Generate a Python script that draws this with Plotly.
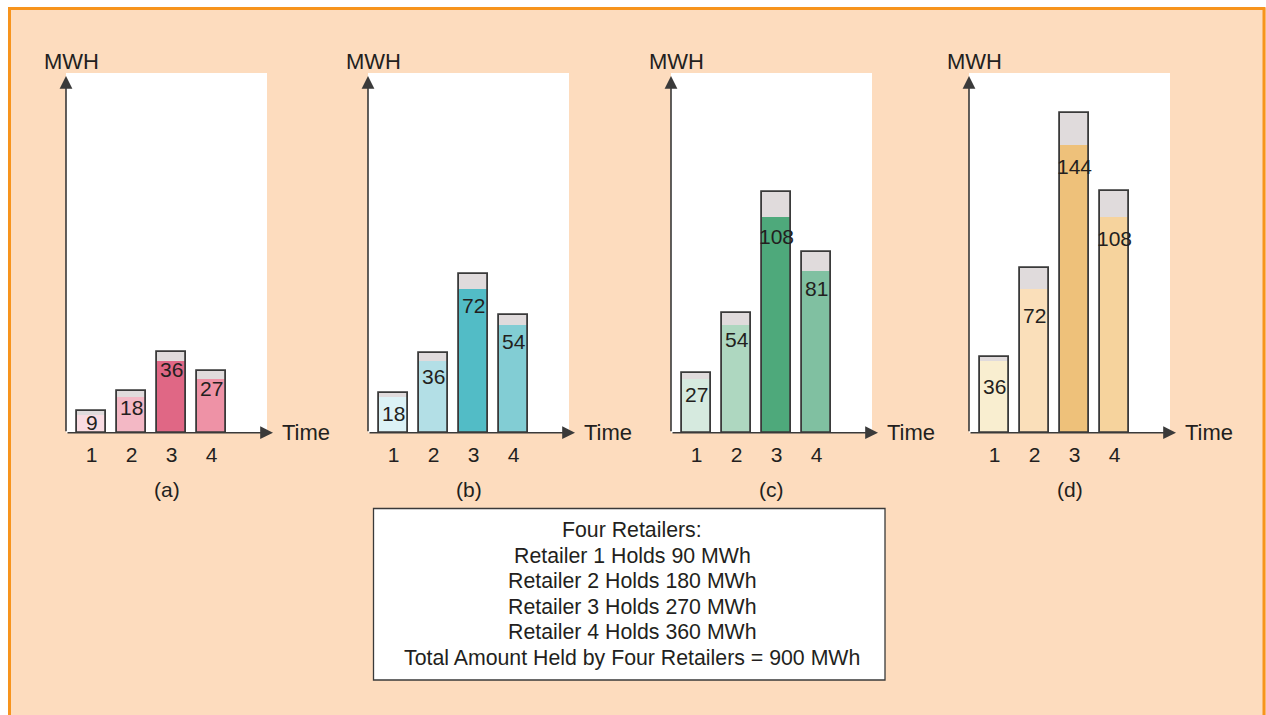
import plotly.graph_objects as go

# ---- data -------------------------------------------------------------
time_slots = [1, 2, 3, 4]
panel_tags = ["(a)", "(b)", "(c)", "(d)"]

retailer1_mwh = [9, 18, 36, 27]
retailer2_mwh = [18, 36, 72, 54]
retailer3_mwh = [27, 54, 108, 81]
retailer4_mwh = [36, 72, 144, 108]

# grey head-room drawn on top of each bar (MWh)
retailer1_margin = [1.7, 2.7, 4.3, 3.8]
retailer2_margin = [1.8, 3.8, 7.2, 5.0]
retailer3_margin = [2.8, 5.8, 12.3, 9.5]
retailer4_margin = [1.8, 10.2, 16.0, 12.8]

summary_lines = [
    "Four Retailers:",
    "Retailer 1 Holds 90 MWh",
    "Retailer 2 Holds 180 MWh",
    "Retailer 3 Holds 270 MWh",
    "Retailer 4 Holds 360 MWh",
    "Total Amount Held by Four Retailers = 900 MWh",
]

# ---- styling ------------------------------------------------------------
W, H = 1266, 715
PEACH = "#FDDCBE"
ORANGE = "#F7941D"
INK = "#231F20"
AXIS = "#3A3A3A"
CAP = "#E0DBDC"
FONT = "Liberation Sans, Arial, sans-serif"

bar_colors = [
    ["#F9DCE2", "#F3B8C5", "#E06785", "#EE92A6"],
    ["#DCF2F6", "#B3DFE6", "#52BCC6", "#82CDD4"],
    ["#D6EADF", "#AED7C0", "#4EA97B", "#80C0A1"],
    ["#F9EED0", "#FADFBA", "#EEC17A", "#F6D39D"],
]
# vertical drop (px) of each value label below the top of its coloured part
label_drop = [
    [8, 11, 9, 10],
    [17, 16, 17, 17],
    [16, 15, 20, 18],
    [26, 27, 22, 22],
]

values = [retailer1_mwh, retailer2_mwh, retailer3_mwh, retailer4_mwh]
margins = [retailer1_margin, retailer2_margin, retailer3_margin, retailer4_margin]

axis_px = [66, 368, 671, 969]     # left edge (y-axis) of each panel
panel_w = 201                     # width of the white plotting area
base_px = 432.7                   # baseline (y pixel, from top)
top_px = 73.0                     # top of white area
px_per_slot = 40.0
first_off = 25.7                  # px from y-axis to centre of slot 1
px_per_mwh = 2.0


def px_x(p):
    return p / W


def px_y(p):
    return 1 - p / H


fig = go.Figure()
annotations = []
shapes = []

x_lo = 1 - first_off / px_per_slot
x_hi = x_lo + panel_w / px_per_slot
y_hi = (base_px - top_px) / px_per_mwh

for k in range(4):
    xa = "x" if k == 0 else f"x{k + 1}"
    ya = "y" if k == 0 else f"y{k + 1}"
    vals = values[k]
    mar = margins[k]
    tops = [v + m for v, m in zip(vals, mar)]

    # coloured part
    fig.add_trace(go.Bar(
        x=time_slots, y=vals, base=[0] * 4, width=0.72,
        marker=dict(color=bar_colors[k], line=dict(width=0)),
        xaxis=xa, yaxis=ya, showlegend=False, hoverinfo="skip"))
    # grey cap
    fig.add_trace(go.Bar(
        x=time_slots, y=mar, base=vals, width=0.72,
        marker=dict(color=CAP, line=dict(width=0)),
        xaxis=xa, yaxis=ya, showlegend=False, hoverinfo="skip"))
    # outline around the whole bar
    fig.add_trace(go.Bar(
        x=time_slots, y=tops, base=[0] * 4, width=0.72,
        marker=dict(color="rgba(0,0,0,0)", line=dict(width=1.8, color=AXIS)),
        xaxis=xa, yaxis=ya, showlegend=False, hoverinfo="skip"))

    dom_x = [px_x(axis_px[k]), px_x(axis_px[k] + panel_w)]
    fig.update_layout(**{
        ("xaxis" if k == 0 else f"xaxis{k + 1}"): dict(
            domain=dom_x, range=[x_lo, x_hi], anchor=ya,
            showgrid=False, zeroline=False, showline=False,
            tickmode="array", tickvals=time_slots,
            ticktext=[str(t) for t in time_slots],
            ticks="", tickfont=dict(size=21, color=INK, family=FONT),
            ticklabelstandoff=7, fixedrange=True),
        ("yaxis" if k == 0 else f"yaxis{k + 1}"): dict(
            domain=[px_y(base_px), px_y(top_px)], range=[0, y_hi],
            anchor=xa, showgrid=False, zeroline=False, showline=False,
            showticklabels=False, ticks="", fixedrange=True),
    })

    # value labels
    for i, v in enumerate(vals):
        annotations.append(dict(
            x=time_slots[i], y=v, xref=xa, yref=ya, text=str(v),
            showarrow=False, yanchor="middle", yshift=-label_drop[k][i],
            font=dict(size=21, color=INK, family=FONT)))

    ax0 = axis_px[k]
    # y-axis arrow
    annotations.append(dict(
        x=px_x(ax0), y=px_y(76), xref="paper", yref="paper",
        ax=0, ay=base_px - 76, axref="pixel", ayref="pixel",
        text="", showarrow=True, arrowhead=2, arrowsize=1.6,
        arrowwidth=1.6, arrowcolor=AXIS))
    # x-axis arrow
    tip = ax0 + 207
    annotations.append(dict(
        x=px_x(tip), y=px_y(base_px), xref="paper", yref="paper",
        ax=-(tip - ax0), ay=0, axref="pixel", ayref="pixel",
        text="", showarrow=True, arrowhead=2, arrowsize=1.6,
        arrowwidth=1.6, arrowcolor=AXIS))
    # axis titles
    annotations.append(dict(
        x=px_x(ax0 + 5.5), y=px_y(62), xref="paper", yref="paper",
        text="MWH", showarrow=False, xanchor="center", yanchor="middle",
        font=dict(size=22, color=INK, family=FONT)))
    annotations.append(dict(
        x=px_x(tip + 7), y=px_y(base_px), xref="paper", yref="paper",
        text="Time", showarrow=False, xanchor="left", yanchor="middle",
        font=dict(size=22, color=INK, family=FONT)))
    # panel tag
    annotations.append(dict(
        x=px_x(ax0 + panel_w / 2), y=px_y(489), xref="paper", yref="paper",
        text=panel_tags[k], showarrow=False, xanchor="center",
        yanchor="middle", font=dict(size=21, color=INK, family=FONT)))

# summary box
shapes.append(dict(
    type="rect", xref="paper", yref="paper",
    x0=px_x(373.5), x1=px_x(885), y0=px_y(680), y1=px_y(508.5),
    fillcolor="white", line=dict(color=AXIS, width=1.3), layer="below"))
for j, line in enumerate(summary_lines):
    annotations.append(dict(
        x=px_x(632), y=px_y(530 + j * 25.5), xref="paper", yref="paper",
        text=line, showarrow=False, xanchor="center", yanchor="middle",
        font=dict(size=21.3, color=INK, family=FONT)))

# white page margin outside the orange frame, and the frame itself
shapes.append(dict(type="rect", xref="paper", yref="paper",
                   x0=0, x1=1, y0=px_y(8), y1=1.02,
                   fillcolor="white", line=dict(width=0), layer="above"))
shapes.append(dict(type="rect", xref="paper", yref="paper",
                   x0=-0.02, x1=px_x(8.5), y0=-0.02, y1=1.02,
                   fillcolor="white", line=dict(width=0), layer="above"))
shapes.append(dict(type="rect", xref="paper", yref="paper",
                   x0=px_x(9.5), x1=px_x(1264), y0=-0.05, y1=px_y(8.5),
                   fillcolor="rgba(0,0,0,0)",
                   line=dict(color=ORANGE, width=3), layer="above"))

fig.update_layout(
    width=W, height=H,
    margin=dict(l=0, r=0, t=0, b=0),
    paper_bgcolor=PEACH, plot_bgcolor="white",
    barmode="overlay", bargap=0,
    font=dict(family=FONT, color=INK),
    annotations=annotations, shapes=shapes,
    showlegend=False,
)

fig.write_html("out.html", config={"displayModeBar": False})
